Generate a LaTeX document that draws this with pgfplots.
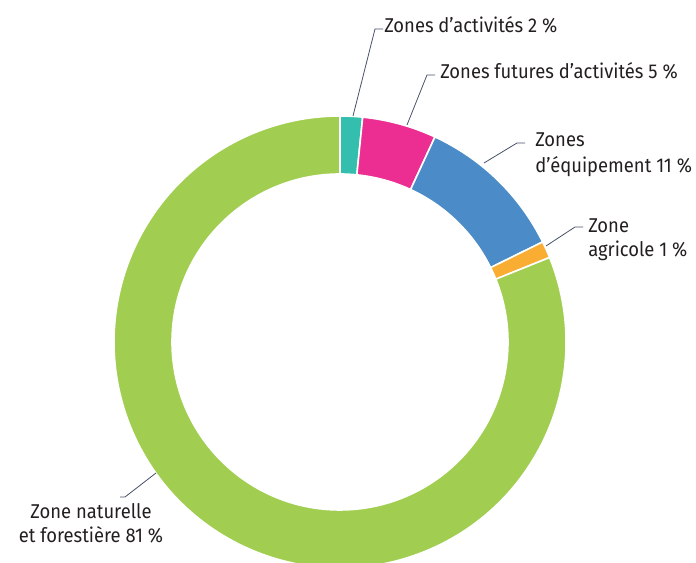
\documentclass[border=0pt]{standalone}
\usepackage{pgfplots}
\pgfplotsset{compat=1.18}
\usepackage{fontspec}
\setmainfont{Fira Sans}[FakeStretch=0.92]
\definecolor{cA}{RGB}{51,190,174}
\definecolor{cB}{RGB}{236,45,146}
\definecolor{cC}{RGB}{74,139,200}
\definecolor{cD}{RGB}{249,174,51}
\definecolor{cE}{RGB}{161,206,80}
\definecolor{txt}{RGB}{35,31,32}
\definecolor{lead}{RGB}{70,80,105}
% donut segment: start percent, end percent, colour (centre 340,221; R=226, r=168 px; 1px=0.75pt)
\newcommand{\seg}[3]{%
  \fill[#3, draw=white, line width=1.2pt]
    (axis cs:{340+226*cos(90-3.6*(#1))},{221+226*sin(90-3.6*(#1))})
    arc[start angle={90-3.6*(#1)}, end angle={90-3.6*(#2)}, radius=169.5pt]
    -- (axis cs:{340+168*cos(90-3.6*(#2))},{221+168*sin(90-3.6*(#2))})
    arc[start angle={90-3.6*(#2)}, end angle={90-3.6*(#1)}, radius=126pt]
    -- cycle;}
\newcommand{\lbl}{\fontsize{15}{18}\selectfont\color{txt}}
\begin{document}
\begin{tikzpicture}
\begin{axis}[x=0.75pt, y=0.75pt, xmin=0, xmax=696, ymin=0, ymax=563,
  hide axis, clip=true]
% cumulative shares (percent): 1.6, 5.3, 10.8, 1.2, 81.1
\seg{0}{1.6}{cA}
\seg{1.6}{6.9}{cB}
\seg{6.9}{17.7}{cC}
\seg{17.7}{18.9}{cD}
\seg{18.9}{100}{cE}
% leaders
\draw[lead, line width=0.6pt] (axis cs:353,447) -- (axis cs:375,534) -- (axis cs:383,534);
\draw[lead, line width=0.6pt] (axis cs:407,438) -- (axis cs:427,488) -- (axis cs:435,488);
\draw[lead, line width=0.6pt] (axis cs:484,400) -- (axis cs:517,420) -- (axis cs:525,420);
\draw[lead, line width=0.6pt] (axis cs:546,317) -- (axis cs:575,336) -- (axis cs:583,336);
\draw[lead, line width=0.6pt] (axis cs:156,90) -- (axis cs:125,66) -- (axis cs:120,66);
% labels
\node[anchor=base west, inner sep=0pt, font=\lbl] at (axis cs:384,530) {Zones d’activités 2 \%};
\node[anchor=base west, inner sep=0pt, font=\lbl] at (axis cs:440,484) {Zones futures d’activités 5 \%};
\node[anchor=base west, inner sep=0pt, font=\lbl] at (axis cs:535,416) {Zones};
\node[anchor=base west, inner sep=0pt, font=\lbl] at (axis cs:535,390) {d’équipement 11 \%};
\node[anchor=base west, inner sep=0pt, font=\lbl] at (axis cs:588,330) {Zone};
\node[anchor=base west, inner sep=0pt, font=\lbl] at (axis cs:588,306) {agricole 1 \%};
\node[anchor=base, inner sep=0pt, font=\lbl] at (axis cs:91,44) {Zone naturelle};
\node[anchor=base, inner sep=0pt, font=\lbl] at (axis cs:91,20) {et forestière 81 \%};
\end{axis}
\pgfresetboundingbox
\path[use as bounding box] (current axis.south west) rectangle (current axis.north east);
\end{tikzpicture}
\end{document}
